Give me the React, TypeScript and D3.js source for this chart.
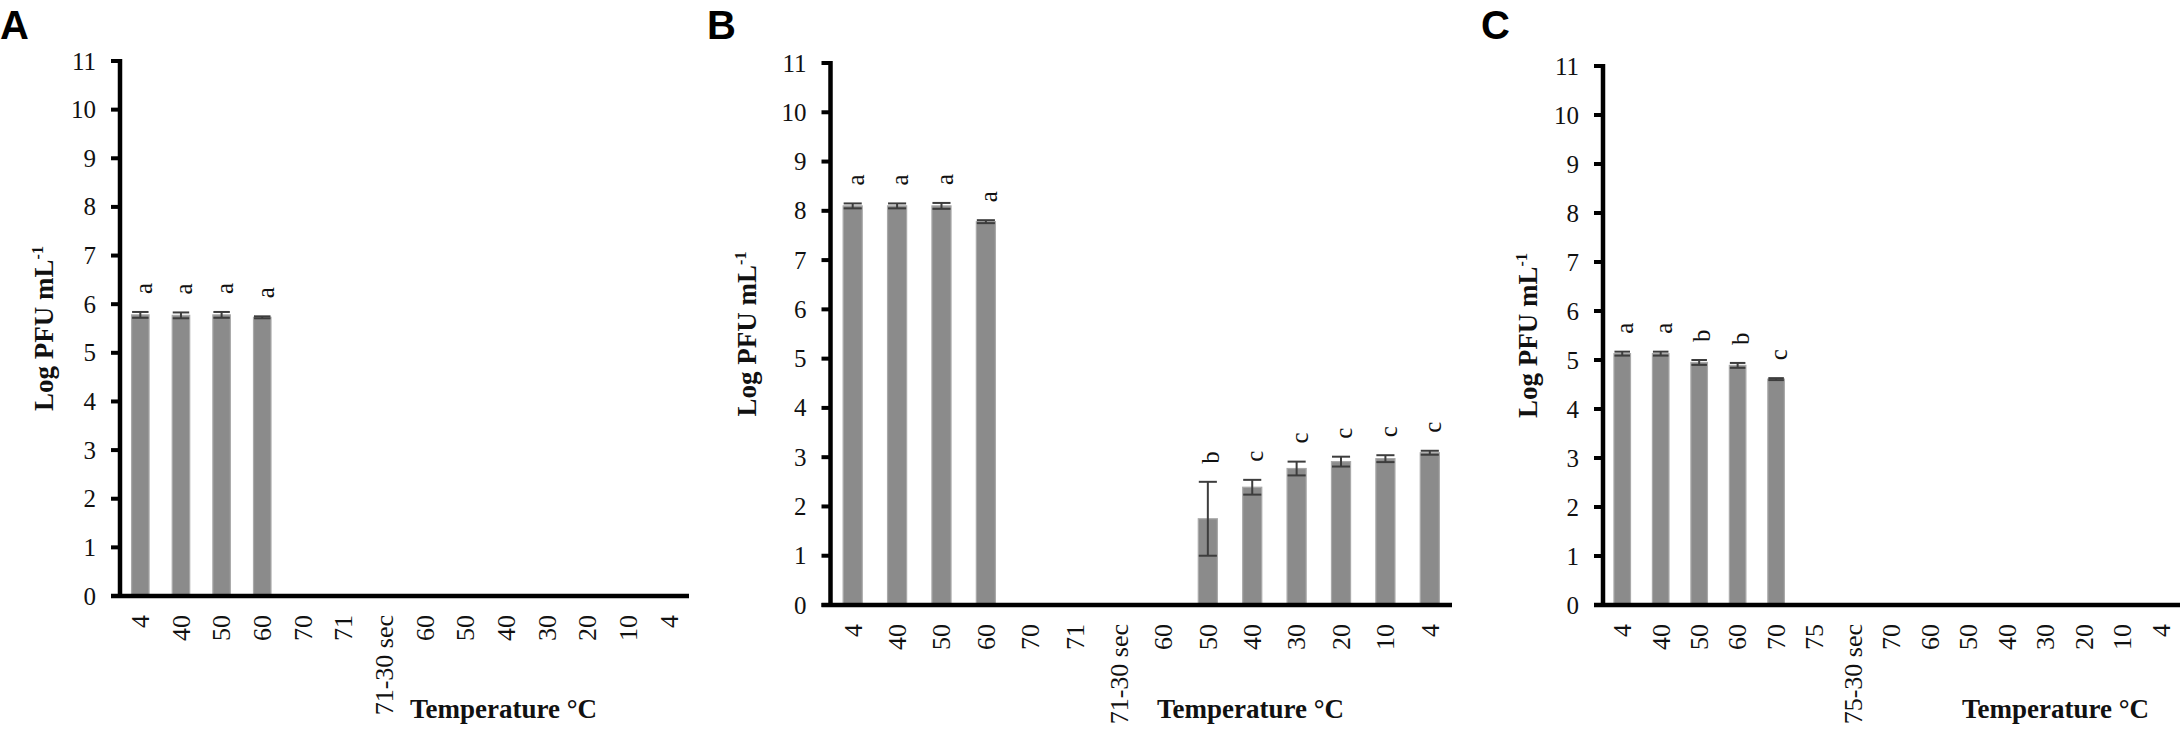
import * as d3 from "d3";

// Panel A
const categoriesA = ["4", "40", "50", "60", "70", "71", "71-30 sec", "60", "50", "40", "30", "20", "10", "4"];
const meansA = [5.78, 5.77, 5.78, 5.73, 0, 0, 0, 0, 0, 0, 0, 0, 0, 0];
const errorsA = [0.06, 0.06, 0.06, 0.02, 0, 0, 0, 0, 0, 0, 0, 0, 0, 0];
const lettersA = ["a", "a", "a", "a", "", "", "", "", "", "", "", "", "", ""];

// Panel B
const categoriesB = ["4", "40", "50", "60", "70", "71", "71-30 sec", "60", "50", "40", "30", "20", "10", "4"];
const meansB = [8.1, 8.1, 8.1, 7.78, 0, 0, 0, 0, 1.75, 2.39, 2.77, 2.91, 2.97, 3.09];
const errorsB = [0.05, 0.05, 0.06, 0.03, 0, 0, 0, 0, 0.75, 0.15, 0.14, 0.1, 0.07, 0.04];
const lettersB = ["a", "a", "a", "a", "", "", "", "", "b", "c", "c", "c", "c", "c"];

// Panel C
const categoriesC = ["4", "40", "50", "60", "70", "75", "75-30 sec", "70", "60", "50", "40", "30", "20", "10", "4"];
const meansC = [5.13, 5.13, 4.95, 4.89, 4.61, 0, 0, 0, 0, 0, 0, 0, 0, 0, 0];
const errorsC = [0.04, 0.04, 0.05, 0.05, 0.02, 0, 0, 0, 0, 0, 0, 0, 0, 0, 0];
const lettersC = ["a", "a", "b", "b", "c", "", "", "", "", "", "", "", "", "", ""];

const yTicks = [0, 1, 2, 3, 4, 5, 6, 7, 8, 9, 10, 11];

const serif = "'Liberation Serif', 'Times New Roman', serif";
const sans = "'Liberation Sans', Arial, sans-serif";

interface PanelProps {
  tag: string;
  tagX: number;
  categories: string[];
  means: number[];
  errors: number[];
  letters: string[];
  x0: number;
  x1: number;
  top: number;
  bottom: number;
  titleOffset: number;
  xTitleX: number;
}

function Panel(p: PanelProps) {
  const x = d3
    .scaleBand<number>()
    .domain(d3.range(p.categories.length))
    .range([p.x0, p.x1])
    .paddingInner(0.57)
    .paddingOuter(0.285);
  const y = d3.scaleLinear().domain([0, 11]).range([p.bottom, p.top]);
  const bw = x.bandwidth();
  const mid = (p.top + p.bottom) / 2;

  return (
    <g>
      <text x={p.tagX} y={39} fontFamily={sans} fontWeight="bold" fontSize={40}>
        {p.tag}
      </text>

      {/* bars */}
      {p.means.map((m, i) =>
        m > 0 ? (
          <rect
            key={"b" + i}
            x={x(i)!}
            y={y(m)}
            width={bw}
            height={y(0) - y(m)}
            fill="#8b8b8b"
            stroke="#a9a9a9"
            strokeWidth={1.2}
          />
        ) : null,
      )}

      {/* error bars */}
      {p.means.map((m, i) => {
        if (m <= 0) return null;
        const cx = x(i)! + bw / 2;
        const hi = y(m + p.errors[i]);
        const lo = y(m - p.errors[i]);
        const hw = bw / 2 - 0.5;
        return (
          <g key={"e" + i} stroke="#3d3d3d" strokeWidth={2}>
            <line x1={cx} x2={cx} y1={hi} y2={lo} />
            <line x1={cx - hw} x2={cx + hw} y1={hi} y2={hi} />
            <line x1={cx - hw} x2={cx + hw} y1={lo} y2={lo} />
          </g>
        );
      })}

      {/* significance letters */}
      {p.letters.map((l, i) => {
        if (!l) return null;
        const cx = x(i)! + bw / 2;
        const ty = y(p.means[i] + p.errors[i]) - 18;
        return (
          <text
            key={"l" + i}
            transform={`translate(${cx},${ty}) rotate(-90)`}
            dy="0.45em"
            fontFamily={serif}
            fontSize={25}
            fill="#111"
          >
            {l}
          </text>
        );
      })}

      {/* y axis */}
      <line x1={p.x0} x2={p.x0} y1={y(11) - 2} y2={y(0) + 2} stroke="#000" strokeWidth={4.5} />
      {yTicks.map((t) => (
        <g key={"t" + t}>
          <line x1={p.x0 - 9} x2={p.x0} y1={y(t)} y2={y(t)} stroke="#000" strokeWidth={4} />
          <text
            x={p.x0 - 24}
            y={y(t)}
            dy="0.34em"
            textAnchor="end"
            fontFamily={serif}
            fontSize={25}
            fill="#111"
          >
            {t}
          </text>
        </g>
      ))}

      {/* x axis */}
      <line x1={p.x0 - 9} x2={p.x1} y1={y(0)} y2={y(0)} stroke="#000" strokeWidth={4.5} />
      {p.categories.map((c, i) => (
        <text
          key={"c" + i}
          transform={`translate(${x(i)! + bw / 2},${y(0) + 19}) rotate(-90)`}
          dy="0.34em"
          textAnchor="end"
          fontFamily={serif}
          fontSize={26}
          fill="#111"
        >
          {c}
        </text>
      ))}

      {/* axis titles */}
      <text
        transform={`translate(${p.x0 - p.titleOffset},${mid}) rotate(-90)`}
        textAnchor="middle"
        fontFamily={serif}
        fontWeight="bold"
        fontSize={27}
        fill="#111"
      >
        Log PFU mL
        <tspan dy={-10} fontSize={16}>
          -1
        </tspan>
      </text>
      <text x={p.xTitleX} y={718} fontFamily={serif} fontWeight="bold" fontSize={27} fill="#111">
        Temperature °C
      </text>
    </g>
  );
}

export default function App() {
  return (
    <svg
      width={2183}
      height={733}
      style={{ position: "absolute", left: 0, top: 0, background: "#fff" }}
    >
      <rect width={2183} height={733} fill="#fff" />
      <Panel
        tag="A"
        tagX={0}
        categories={categoriesA}
        means={meansA}
        errors={errorsA}
        letters={lettersA}
        x0={120}
        x1={689}
        top={61}
        bottom={596}
        titleOffset={67}
        xTitleX={410}
      />
      <Panel
        tag="B"
        tagX={707}
        categories={categoriesB}
        means={meansB}
        errors={errorsB}
        letters={lettersB}
        x0={830.5}
        x1={1452}
        top={63}
        bottom={605}
        titleOffset={75}
        xTitleX={1157}
      />
      <Panel
        tag="C"
        tagX={1481}
        categories={categoriesC}
        means={meansC}
        errors={errorsC}
        letters={lettersC}
        x0={1603}
        x1={2180}
        top={66}
        bottom={605}
        titleOffset={66}
        xTitleX={1962}
      />
    </svg>
  );
}
